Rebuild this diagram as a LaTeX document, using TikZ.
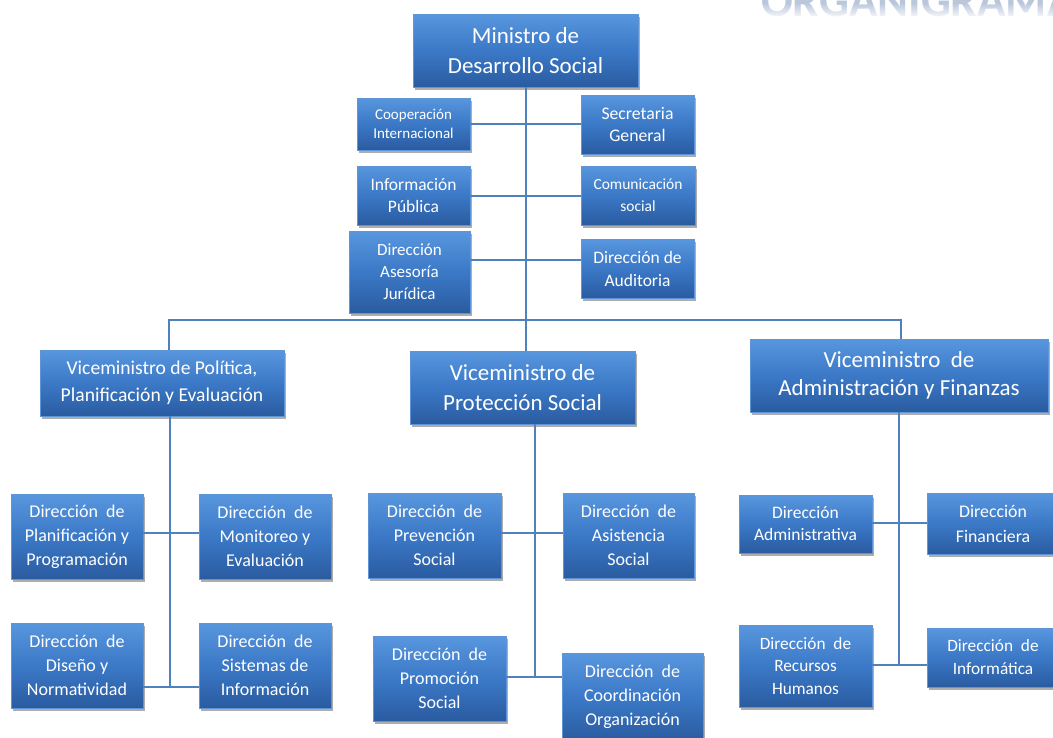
\documentclass[tikz,border=0pt]{standalone}
\usepackage{fontspec}
\setmainfont{Carlito}
\usetikzlibrary{shadows,fadings}
\definecolor{boxtop}{HTML}{5896DE}
\definecolor{boxmid}{HTML}{3B79C7}
\definecolor{boxbot}{HTML}{2A5BA0}
\definecolor{boxedge}{HTML}{5F95D6}
\definecolor{linec}{HTML}{4F81BD}
\definecolor{ttlc}{HTML}{BAC7DB}
\tikzfading[name=fadewhite, top color=transparent!100, bottom color=transparent!0]
\tikzset{
  orgbox/.style={draw=boxedge, line width=0.8pt, top color=boxtop, bottom color=boxbot, middle color=boxmid,
    text=white, align=center, inner sep=0pt,
    drop shadow={shadow xshift=2pt, shadow yshift=-3pt, opacity=0.4, fill=black!80}},
  fbig/.style={font=\fontsize{23}{30}\selectfont},
  fsmall/.style={font=\fontsize{18}{24}\selectfont},
  conn/.style={draw=linec, line width=2pt}
}
\begin{document}
\begin{tikzpicture}[x=1pt,y=-1pt]
\useasboundingbox (0,0) rectangle (1053,737);
\clip (0,0) rectangle (1053,737);
\fill[white] (0,0) rectangle (1053,737);
% faded title
\node[anchor=base west, inner sep=0pt, text=ttlc, font=\fontsize{47}{47}\selectfont\bfseries] (ttl) at (761,16) {ORGANIGRAMA};
\fill[white, path fading=fadewhite] (740,3) rectangle (1060,19);

\coordinate (bus) at (525.5,320);
\coordinate (v1a) at (170,533);
\coordinate (v1b) at (170,687);
\coordinate (v2a) at (535,533);
\coordinate (v2b) at (535,677);
\coordinate (v3a) at (899,523);
\coordinate (v3b) at (899,665);

% boxes
\node[orgbox, fbig, minimum width=225pt, minimum height=73pt] (min) at (525.5,50.5) {Ministro de\\Desarrollo Social};
\node[orgbox, font=\fontsize{15}{19}\selectfont, minimum width=113pt, minimum height=52pt] (coop) at (413.5,124) {Cooperación\\Internacional};
\node[orgbox, font=\fontsize{17.7}{22}\selectfont, minimum width=113pt, minimum height=59pt] (secr) at (637.5,124.5) {Secretaria\\General};
\node[orgbox, font=\fontsize{17.5}{22}\selectfont, minimum width=113pt, minimum height=59pt] (info) at (413.5,195.5) {Información\\Pública};
\node[orgbox, font=\fontsize{15.5}{22}\selectfont, minimum width=114pt, minimum height=59pt] (comu) at (638,195.5) {Comunicación\\social};
\node[orgbox, font=\fontsize{17}{22}\selectfont, minimum width=121pt, minimum height=82pt] (jur) at (409.5,272) {Dirección\\Asesoría\\Jurídica};
\node[orgbox, font=\fontsize{17.5}{23}\selectfont, minimum width=113pt, minimum height=59pt] (aud) at (637.5,268.5) {Dirección de\\Auditoria};

\node[orgbox, font=\fontsize{19.6}{27}\selectfont, minimum width=244pt, minimum height=66pt] (v1) at (162,383) {Viceministro de Política,\\Planificación y Evaluación};
\node[orgbox, fbig, minimum width=225pt, minimum height=73pt] (v2) at (522.5,387.5) {Viceministro de\\Protección Social};
\node[orgbox, font=\fontsize{23}{28}\selectfont, minimum width=298pt, minimum height=73pt] (v3) at (899,375.5) {Viceministro\ \ de\\Administración y Finanzas};

\node[orgbox, fsmall, minimum width=132pt, minimum height=85pt] (plan) at (77,536.5) {Dirección\ \ de\\Planificación y\\Programación};
\node[orgbox, fsmall, minimum width=132pt, minimum height=85pt] (moni) at (265,536.5) {Dirección\ \ de\\Monitoreo y\\Evaluación};
\node[orgbox, fsmall, minimum width=132pt, minimum height=85pt] (dise) at (77,665.5) {Dirección\ \ de\\Diseño y\\Normatividad};
\node[orgbox, fsmall, minimum width=132pt, minimum height=85pt] (sist) at (265,665.5) {Dirección\ \ de\\Sistemas de\\Información};

\node[orgbox, fsmall, minimum width=133pt, minimum height=85pt] (prev) at (434.5,535.5) {Dirección\ \ de\\Prevención\\Social};
\node[orgbox, fsmall, minimum width=131pt, minimum height=85pt] (asis) at (628.5,535.5) {Dirección\ \ de\\Asistencia\\Social};
\node[orgbox, fsmall, minimum width=133pt, minimum height=85pt] (prom) at (439.5,678.5) {Dirección\ \ de\\Promoción\\Social};
\node[orgbox, fsmall, minimum width=141pt, minimum height=88pt] (coord) at (632.5,697) {Dirección\ \ de\\Coordinación\\Organización};

\node[orgbox, font=\fontsize{17.5}{22}\selectfont, minimum width=133pt, minimum height=58pt] (adm) at (805.5,524) {Dirección\\Administrativa};
\node[orgbox, font=\fontsize{17.8}{25}\selectfont, minimum width=132pt, minimum height=61pt] (fin) at (993,523.5) {Dirección\\Financiera};
\node[orgbox, font=\fontsize{17.3}{22.5}\selectfont, minimum width=133pt, minimum height=82pt] (rrhh) at (805.5,666) {Dirección\ \ de\\Recursos\\Humanos};
\node[orgbox, font=\fontsize{17.3}{23}\selectfont, minimum width=132pt, minimum height=59pt] (infm) at (993,657.5) {Dirección\ \ de\\Informática};

% connectors
\draw[conn] (min.south) -- (min.south |- v2.north);
\draw[conn] (coop.east) -- (coop.east -| secr.west);
\draw[conn] (info.east) -- (info.east -| comu.west);
\draw[conn] ([yshift=12pt]jur.east) -- ([yshift=12pt]jur.east -| aud.west);
\draw[conn] ([xshift=7pt]v1.north) -- ([xshift=7pt]v1.north |- bus) -- ([xshift=2pt]v3.north |- bus) -- ([xshift=2pt]v3.north);
\draw[conn] ([xshift=8pt]v1.south) -- (v1b);
\draw[conn] (plan.east |- v1a) -- (moni.west |- v1a);
\draw[conn] (dise.east |- v1b) -- (sist.west |- v1b);
\draw[conn] ([xshift=12.5pt]v2.south) -- (v2b);
\draw[conn] (prev.east |- v2a) -- (asis.west |- v2a);
\draw[conn] (prom.east |- v2b) -- (coord.west |- v2b);
\draw[conn] (v3.south) -- (v3b);
\draw[conn] (adm.east |- v3a) -- (fin.west |- v3a);
\draw[conn] (rrhh.east |- v3b) -- (infm.west |- v3b);
\end{tikzpicture}
\end{document}
